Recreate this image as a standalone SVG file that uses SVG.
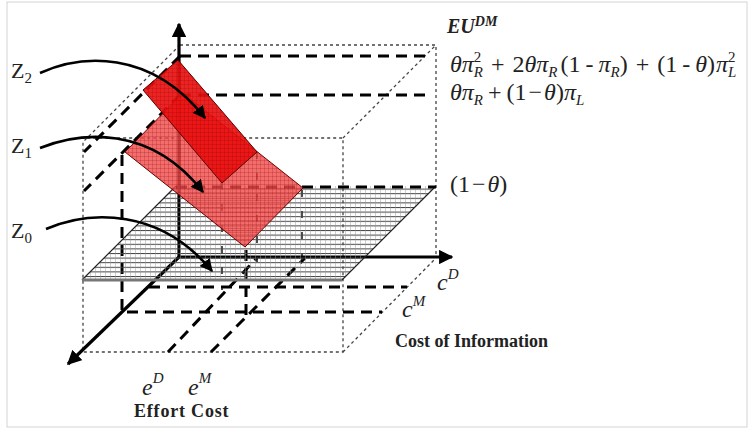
<svg xmlns="http://www.w3.org/2000/svg" width="750" height="429" viewBox="0 0 750 429">
<style>
.dot{fill:none;stroke:#444;stroke-width:1.3;stroke-dasharray:3,3}
.dash{fill:none;stroke:#000;stroke-width:3;stroke-dasharray:11,7}
.tick{fill:none;stroke:#222;stroke-width:1.6;stroke-dasharray:7,14}
.axis{fill:none;stroke:#000;stroke-width:3.2}
.curve{fill:none;stroke:#000;stroke-width:2.6}
.eq{font-family:"Liberation Serif",serif;font-size:24px;fill:#222}
.i{font-style:italic}
.sc{font-size:15px}
.lbl{font-family:"Liberation Serif",serif;font-size:18px;font-weight:bold;fill:#222}
.z{font-family:"Liberation Serif",serif;font-size:22px;fill:#222}
</style>
<defs>
<pattern id="hatch" patternUnits="userSpaceOnUse" width="5" height="4.6">
<line x1="0" y1="0.5" x2="5" y2="0.5" stroke="#444" stroke-width="1"/>
<line x1="0.5" y1="0" x2="0.5" y2="4.6" stroke="#999" stroke-width="0.45"/>
</pattern>
<pattern id="grid" patternUnits="userSpaceOnUse" width="4" height="4">
<path d="M0,0.5H4M0.5,0V4" stroke="#8a0000" stroke-width="0.5" stroke-opacity="0.4" fill="none"/>
</pattern>
<marker id="ah" viewBox="0 0 10 10" refX="9" refY="5" markerWidth="5" markerHeight="5" orient="auto" markerUnits="strokeWidth">
<path d="M0,0L10,5L0,10z" fill="#000"/>
</marker>
<marker id="ax" viewBox="0 0 10 10" refX="9" refY="5" markerWidth="4.5" markerHeight="4.5" orient="auto" markerUnits="strokeWidth">
<path d="M0,0L10,5L0,10z" fill="#000"/>
</marker>
</defs>
<rect x="7" y="2" width="740" height="425" fill="#fff" stroke="#d4d4d4" stroke-width="1"/>

<g id="connectors">
<g id="box-dotted">
<path class="dot" d="M180,45H436V257"/>
<path class="dot" d="M180,45L83,142V352H343V138H83"/>
<path class="dot" d="M343,138L436,45"/>
<path class="dot" d="M343,352L436,258"/>
</g>
<g id="levels-dashed">
<path class="dash" d="M180,56H426"/>
<path class="dash" d="M180,95H428"/>
<path class="dash" d="M180,56L84,152"/>
<path class="dash" d="M180,95L84,191"/>
<path class="dash" d="M122,155V312H382"/>
<path class="dash" d="M149,287H407"/>
<path class="dash" d="M168,352L257,258"/>
<path class="dash" d="M211,352L305,258"/>
<path class="dash" d="M246,250V315"/>
<path class="tick" d="M222,183V290"/>
<path class="tick" d="M257,152V262"/>
<path class="tick" d="M302,190V262"/>
</g>
<g id="axes">
<path class="axis" d="M179,257V24" marker-end="url(#ax)"/>
<path class="axis" d="M179,257H452" marker-end="url(#ax)"/>
<path class="axis" d="M179,257L68,364" marker-end="url(#ax)"/>
</g>
</g>

<g id="Z0">
<polygon points="82,280 342,280 436,186 176,186" fill="url(#hatch)" stroke="none"/>
<path d="M176,186L82,280M436,186L342,280" stroke="#222" stroke-width="1.2" fill="none"/>
<path d="M82,280H342" stroke="#777" stroke-width="3" fill="none"/>
<path class="dash" d="M176,187H436"/>
</g>

<g id="Z1">
<polygon points="125,152 245,247 303,188 183,93" fill="#f04848" fill-opacity="0.8" stroke="#6a0000" stroke-width="1"/>
<polygon points="125,152 245,247 303,188 183,93" fill="url(#grid)"/>
</g>

<g id="Z2">
<polygon points="178,60 257,152 222,183 143,90" fill="#ea1010" fill-opacity="0.92" stroke="#5a0000" stroke-width="1"/>
<polygon points="178,60 257,152 222,183 143,90" fill="url(#grid)"/>
</g>

<g id="arrows">
<path class="curve" d="M40,73C80,55 150,48 205,118" marker-end="url(#ah)"/>
<path class="curve" d="M40,148C80,132 150,124 203,192" marker-end="url(#ah)"/>
<path class="curve" d="M46,229C90,210 160,208 212,271" marker-end="url(#ah)"/>
</g>

<g id="labels">
<text class="z" x="11" y="78">Z<tspan class="sc" dy="5">2</tspan></text>
<text class="z" x="11" y="153">Z<tspan class="sc" dy="5">1</tspan></text>
<text class="z" x="11" y="238">Z<tspan class="sc" dy="5">0</tspan></text>
<text x="447" y="33" font-family="Liberation Serif,serif" font-size="20" font-weight="bold" font-style="italic" fill="#222">EU<tspan font-size="14" dy="-7">DM</tspan></text>
<text class="eq" x="450" y="72"><tspan class="i">θπ</tspan><tspan class="sc" dy="-10">2</tspan><tspan class="sc i" dx="-7.5" dy="15">R</tspan><tspan dx="8" dy="-5">+</tspan><tspan dx="8">2</tspan><tspan class="i">θπ</tspan><tspan class="sc i" dy="5">R</tspan><tspan dx="3" dy="-5">(1</tspan><tspan dx="5">-</tspan><tspan class="i" dx="5">π</tspan><tspan class="sc i" dy="5">R</tspan><tspan dy="-5">)</tspan><tspan dx="8">+</tspan><tspan dx="8">(1</tspan><tspan dx="5">-</tspan><tspan class="i" dx="5">θ</tspan><tspan>)</tspan><tspan class="i" dx="1">π</tspan><tspan class="sc" dy="-10">2</tspan><tspan class="sc i" dx="-7.5" dy="15">L</tspan></text>
<text class="eq" x="450" y="100"><tspan class="i">θπ</tspan><tspan class="sc i" dy="5">R</tspan><tspan dx="5" dy="-5">+</tspan><tspan dx="5">(1</tspan><tspan dx="2">−</tspan><tspan class="i" dx="2">θ</tspan><tspan>)</tspan><tspan class="i">π</tspan><tspan class="sc i" dy="5">L</tspan></text>
<text class="eq" x="450" y="192">(1<tspan dx="2">−</tspan><tspan class="i" dx="2">θ</tspan>)</text>
<text class="eq i" x="437" y="290" font-size="19">c<tspan class="sc" dy="-11">D</tspan></text>
<text class="eq i" x="402" y="317" font-size="19">c<tspan class="sc" dy="-11">M</tspan></text>
<text class="eq i" x="142" y="395" font-size="21">e<tspan class="sc" dy="-12">D</tspan></text>
<text class="eq i" x="188" y="395" font-size="21">e<tspan class="sc" dy="-12">M</tspan></text>
<text class="lbl" x="395" y="347">Cost of Information</text>
<text class="lbl" x="134" y="417" letter-spacing="0.8">Effort Cost</text>
</g>
</svg>
